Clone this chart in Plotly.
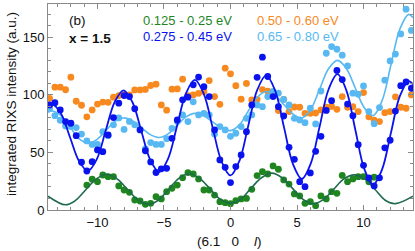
import plotly.graph_objects as go

# ---------------- data ----------------
l_values = [-13.6, -13.2, -12.8, -12.4, -12.0, -11.6, -11.2, -10.8, -10.4, -10.0,
            -9.6, -9.2, -8.8, -8.4, -8.0, -7.6, -7.2, -6.8, -6.4, -6.0,
            -5.6, -5.2, -4.8, -4.4, -4.0, -3.6, -3.2, -2.8, -2.4, -2.0,
            -1.6, -1.2, -0.8, -0.4, 0.0, 0.4, 0.8, 1.2, 1.6, 2.0,
            2.4, 2.8, 3.2, 3.6, 4.0, 4.4, 4.8, 5.2, 5.6, 6.0,
            6.4, 6.8, 7.2, 7.6, 8.0, 8.4, 8.8, 9.2, 9.6, 10.0,
            10.4, 10.8, 11.2, 11.6, 12.0, 12.4, 12.8, 13.2, 13.6]

green_l = l_values[7:62]
green_vals = [21.7, 26.7, 24.6, 30.4, 29.0, 29.0, 20.9, 17.4, 15.4, 8.7,
              7.8, 4.9, 5.8, 11.6, 9.6, 15.9, 18.9, 21.7, 28.1, 32.5,
              31.3, 27.0, 17.4, 17.4, 13.0, 7.2, 6.4, 5.5, 8.1, 9.6,
              10.1, 18.0, 29.9, 33.3, 31.3, 38.3, 35.4, 26.1, 22.5, 14.0,
              12.2, 5.8, 7.2, 3.8, 12.2, 9.6, 15.9, 14.5, 30.0, 24.6,
              27.0, 29.0, 29.0, 24.5, 28.5]

orange_vals = [97.0, 106.7, 106.7, 104.5, 115.4, 94.5, 91.0, 81.0, 87.0, 92.0,
               93.8, 93.6, 98.0, 99.4, 100.0, 100.0, 104.3, 104.3, 104.8, 108.2,
               109.3, 91.3, 86.7, 105.0, 105.2, 113.7, 99.4, 100.0, 101.4, 103.0,
               112.5, 98.6, 91.8, 123.2, 118.3, 108.0, 96.3, 110.0, 95.7, 96.2,
               104.6, 103.2, 102.0, 86.4, 96.2, 85.5, 89.5, 89.3, 84.0, 84.0,
               84.3, 87.0, 89.4, 90.0, 87.5, 98.6, 89.3, 89.8, 85.5, 102.0,
               81.0, 78.0, 76.8, 84.6, 85.5, 98.3, 89.3, 88.4, 100.0]

blue_vals = [91.3, 93.3, 87.0, 76.8, 75.4, 64.6, 41.5, 33.9, 42.0, 52.2,
             50.7, 65.2, 80.3, 92.8, 99.4, 98.6, 88.0, 69.6, 51.5, 41.8,
             32.6, 35.8, 36.2, 62.3, 78.3, 95.7, 98.0, 108.8, 115.5, 107.2,
             98.6, 69.6, 43.5, 37.1, 23.8, 37.7, 47.8, 68.0, 91.3, 115.3,
             132.8, 116.0, 98.6, 89.8, 81.7, 54.5, 44.0, 24.6, 20.3, 32.2,
             51.0, 64.0, 86.5, 95.0, 121.3, 113.3, 92.0, 82.0, 56.8, 38.8,
             28.0, 20.9, 28.0, 54.0, 60.6, 86.0, 108.0, 111.3, 105.8]

lightblue_vals = [88.0, 82.0, 78.0, 73.0, 72.5, 71.6, 66.0, 60.0, 57.0, 57.0,
                  68.0, 64.6, 74.0, 80.0, 70.0, 77.0, 74.0, 70.0, 53.0, 58.6,
                  57.0, 57.0, 62.0, 71.0, 77.0, 82.6, 76.8, 94.0, 82.6, 84.0,
                  82.6, 66.0, 72.5, 69.6, 64.0, 66.7, 72.5, 79.7, 82.6, 91.3,
                  89.8, 98.6, 103.0, 101.5, 96.0, 91.3, 79.7, 78.3, 75.9, 88.4,
                  74.8, 103.4, 136.2, 142.0, 139.7, 134.5, 125.2, 101.5, 100.6, 107.8,
                  85.5, 75.0, 89.0, 112.8, 129.5, 135.5, 153.0, 174.5, 156.0]

# fitted curves
green_fit_l = [-13.72, -12.4, -11.63, -10.85, -10.08, -9.3, -8.53, -7.75, -6.98, -6.2,
               -5.43, -4.65, -3.88, -3.1, -2.33, -1.55, -0.78, 0.0, 0.78, 1.55,
               2.33, 3.1, 3.88, 4.65, 5.43, 6.2, 6.98, 7.75, 8.53, 9.3,
               10.08, 10.85, 11.63, 12.4, 13.72]
green_fit = [12.0, 4.5, 8.5, 18.0, 27.0, 31.0, 27.0, 18.0, 9.0, 5.0,
             8.5, 18.0, 27.5, 31.5, 27.5, 18.5, 9.5, 6.0, 9.5, 19.0,
             28.0, 32.0, 28.0, 19.0, 9.5, 5.5, 9.0, 18.0, 27.0, 30.5,
             27.0, 18.0, 8.5, 5.5, 12.0]

fit_l = [-13.72, -13.4, -12.73, -12.06, -11.39, -10.72, -10.05, -9.38, -8.71, -8.04,
         -7.37, -6.70, -6.03, -5.36, -4.69, -4.02, -3.35, -2.68, -2.01, -1.34,
         -0.67, 0.0, 0.67, 1.34, 2.01, 2.68, 3.35, 4.02, 4.69, 5.36,
         6.03, 6.70, 7.37, 8.04, 8.71, 9.38, 10.05, 10.72, 11.39, 12.06,
         12.73, 13.4, 13.72]
blue_fit = [91.0, 92.0, 83.5, 63.0, 42.5, 34.0, 44.2, 69.0, 93.8, 104.0,
            93.6, 68.5, 43.4, 33.0, 44.7, 73.0, 101.3, 113.0, 100.9, 71.5,
            42.1, 30.0, 42.7, 73.5, 104.3, 117.0, 103.9, 72.0, 40.1, 27.0,
            40.3, 72.5, 104.7, 118.0, 104.0, 70.0, 36.0, 22.0, 35.1, 67.0,
            98.9, 112.0, 109.0]
lightblue_fit = [85.0, 86.0, 81.9, 72.0, 62.1, 58.0, 61.2, 69.0, 76.8, 80.0,
                 77.5, 71.5, 65.5, 63.0, 66.1, 73.5, 80.9, 84.0, 81.8, 76.5,
                 71.2, 69.0, 74.0, 86.0, 98.0, 103.0, 99.6, 91.5, 83.4, 80.0,
                 87.3, 105.0, 122.7, 130.0, 123.0, 106.0, 89.0, 82.0, 94.8, 126.0,
                 157.2, 170.0, 167.0]

legend_labels = ["0.125 - 0.25 eV", "0.50 - 0.60 eV", "0.275 - 0.45 eV", "0.65 - 0.80 eV"]

assert len(green_l) == len(green_vals)
assert len(l_values) == len(orange_vals) == len(blue_vals) == len(lightblue_vals)
assert len(green_fit_l) == len(green_fit)
assert len(fit_l) == len(blue_fit) == len(lightblue_fit)

# ---------------- styles ----------------
C_GREEN = "#1f861f"
C_GREEN_LINE = "#1d6b4c"
C_ORANGE = "#f7891f"
C_BLUE = "#0a12ee"
C_LBLUE = "#58b9f2"
FONT = "Liberation Sans, Arial, Helvetica, sans-serif"
MS = 6.8

fig = go.Figure()

def markers(x, y, color):
    fig.add_trace(go.Scatter(x=x, y=y, mode="markers",
                             marker=dict(size=MS, color=color, line=dict(width=0)),
                             showlegend=False, hoverinfo="skip"))

def curve(x, y, color, w):
    fig.add_trace(go.Scatter(x=x, y=y, mode="lines",
                             line=dict(color=color, width=w, shape="spline", smoothing=1.0),
                             showlegend=False, hoverinfo="skip"))

markers(l_values, orange_vals, C_ORANGE)
markers(l_values, lightblue_vals, C_LBLUE)
curve(fit_l, lightblue_fit, C_LBLUE, 1.6)
markers(green_l, green_vals, C_GREEN)
curve(green_fit_l, green_fit, C_GREEN_LINE, 1.6)
markers(l_values, blue_vals, C_BLUE)
curve(fit_l, blue_fit, C_BLUE, 1.8)

axis_common = dict(showline=True, linecolor="#8a8a8a", linewidth=1, mirror="allticks",
                   ticks="inside", ticklen=5, tickcolor="#8a8a8a", tickwidth=1,
                   showgrid=False, zeroline=False,
                   tickfont=dict(family=FONT, size=13, color="#111"))

fig.update_xaxes(range=[-13.72, 13.72], tickvals=[-10, -5, 0, 5, 10],
                 minor=dict(dtick=1, ticks="inside", ticklen=3, tickcolor="#8a8a8a", showgrid=False),
                 **axis_common)
fig.update_yaxes(range=[0, 179], tickvals=[0, 50, 100, 150],
                 minor=dict(dtick=10, ticks="inside", ticklen=3, tickcolor="#8a8a8a", showgrid=False),
                 **axis_common)

ann = []
ann.append(dict(text="(b)", x=0.051, y=0.922, xref="paper", yref="paper",
                xanchor="left", yanchor="middle", showarrow=False,
                font=dict(family=FONT, size=13.5, color="#111")))
ann.append(dict(text="<b>x = 1.5</b>", x=0.051, y=0.833, xref="paper", yref="paper",
                xanchor="left", yanchor="middle", showarrow=False,
                font=dict(family=FONT, size=13.5, color="#111")))
pos = [(0.255, 0.922, C_GREEN), (0.567, 0.922, C_ORANGE),
       (0.255, 0.841, C_BLUE), (0.567, 0.841, C_LBLUE)]
for lab, (px, py, col) in zip(legend_labels, pos):
    ann.append(dict(text=lab, x=px, y=py, xref="paper", yref="paper",
                    xanchor="left", yanchor="middle", showarrow=False,
                    font=dict(family=FONT, size=13, color=col)))
ann.append(dict(text="integrated RIXS intensity (a.u.)", x=-0.0986, y=0.515,
                xref="paper", yref="paper", textangle=-90, showarrow=False,
                xanchor="center", yanchor="middle",
                font=dict(family=FONT, size=13.5, color="#111")))
ann.append(dict(text="(6.1\u00a0\u00a0\u00a00\u00a0\u00a0\u00a0\u00a0<i>l</i>)", x=0.4986, y=-0.154,
                xref="paper", yref="paper", showarrow=False,
                xanchor="center", yanchor="middle",
                font=dict(family=FONT, size=13.5, color="#111")))

fig.update_layout(width=415, height=251, margin=dict(l=48, r=2, t=4, b=41),
                  paper_bgcolor="white", plot_bgcolor="white",
                  annotations=ann, showlegend=False)

fig.write_html("out.html", config={"displayModeBar": False},
               post_script="document.body.style.margin='0';document.body.style.padding='0';")
